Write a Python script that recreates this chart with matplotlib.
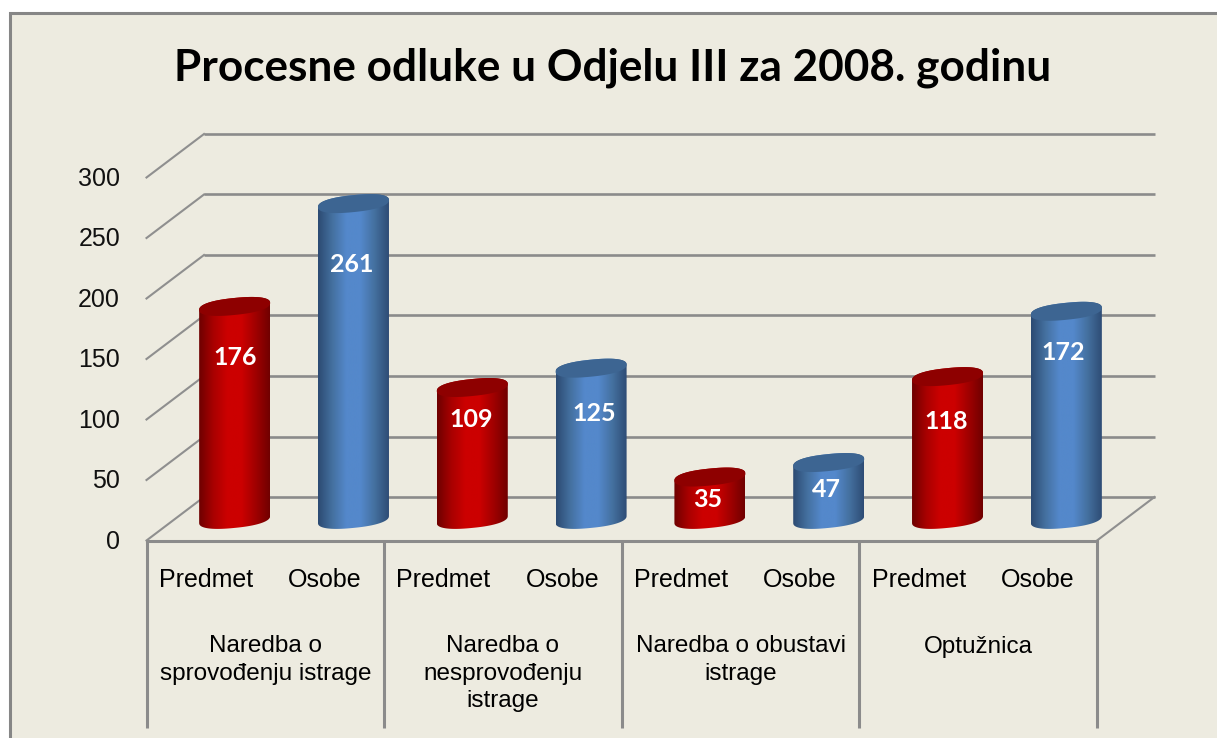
import numpy as np
import matplotlib
matplotlib.use("Agg")
import matplotlib.pyplot as plt
from matplotlib.patches import PathPatch, Rectangle
from matplotlib.path import Path
from matplotlib.colors import LinearSegmentedColormap
from matplotlib.transforms import ScaledTranslation

title = "Procesne odluke u Odjelu III za 2008. godinu"
groups = ["Naredba o\nsprovođenju istrage", "Naredba o\nnesprovođenju\nistrage",
          "Naredba o obustavi\nistrage", "Optužnica"]
series_names = ["Predmet", "Osobe"]
predmet = [176, 109, 35, 118]
osobe = [261, 125, 47, 172]
y_ticks = [0, 50, 100, 150, 200, 250, 300]

# layout (pixels of the 1217x738 canvas)
W, H = 1217, 738
X0, X1, Y0, Y300 = 146.5, 1097.0, 540.5, 177.5
BG, GRID = "#EDEBE0", "#8B8B8B"

fig = plt.figure(figsize=(W / 100, H / 100), dpi=100, facecolor="white")
fig.add_artist(Rectangle((9.5 / W, -0.1), 1.2, 1 + 0.1 - 13.5 / H, transform=fig.transFigure,
                         facecolor=BG, edgecolor="#868686", linewidth=2.2, zorder=-5))
ax = fig.add_axes([X0 / W, 1 - Y0 / H, (X1 - X0) / W, (Y0 - Y300) / H])
ax.patch.set_visible(False)
ax.set_xlim(0, 4)
ax.set_ylim(0, 300)
PX, PY = 4 / (X1 - X0), 300 / (Y0 - Y300)   # data units per pixel
DX, DY = 57.5 * PX, 43.5 * PY               # depth of the chart box

for s in ("left", "right", "top"):
    ax.spines[s].set_visible(False)
ax.spines["bottom"].set_color(GRID)
ax.spines["bottom"].set_linewidth(2.2)

ax.set_yticks(y_ticks)
ax.set_yticklabels([str(v) for v in y_ticks], fontfamily="Liberation Sans", fontsize=18, color="#111111")
ax.tick_params(axis="y", length=0, pad=19)
for lab in ax.get_yticklabels():
    lab.set_transform(lab.get_transform() + ScaledTranslation(0, 0.014, fig.dpi_scale_trans))
xt = [i + f for i in range(4) for f in (0.25, 0.75)]
ax.set_xticks(xt)
ax.set_xticklabels(series_names * 4, fontfamily="Liberation Sans", fontsize=18, color="black")
ax.tick_params(axis="x", length=0, pad=19.7)

# walls
for v in y_ticks:
    ax.plot([0, DX], [v, v + DY], color="#8F8F8F", lw=1.5, clip_on=False, zorder=1)
    ax.plot([DX, 4 + DX], [v + DY, v + DY], color=GRID, lw=1.9, clip_on=False, zorder=1,
            solid_capstyle="butt")
ax.plot([4, 4 + DX], [0, DY], color="#8F8F8F", lw=1.5, clip_on=False, zorder=1)

# category dividers
for i in range(5):
    ax.plot([i, i], [0, -187.5 * PY], color=GRID, lw=2.2, clip_on=False, zorder=1,
            solid_capstyle="butt")
for i, g in enumerate(groups):
    ax.text(i + 0.5, -95 * PY, g, ha="center", va="top", fontfamily="Liberation Sans",
            fontsize=17.5, linespacing=1.32, color="black")

red = LinearSegmentedColormap.from_list("r", ["#6E0000", "#A80000", "#CC0000", "#CC0000", "#A00000", "#700000"])
blue = LinearSegmentedColormap.from_list("b", ["#2C4A72", "#44709F", "#5488CB", "#5488CB", "#44709F", "#2E4C75"])
grad = np.linspace(0, 1, 256)[None, :]


def round_cos(t, p=0.85):
    return np.sign(np.cos(t)) * np.abs(np.cos(t)) ** p


def round_sin(t, p=0.85):
    return np.sign(np.sin(t)) * np.abs(np.sin(t)) ** p


def cylinder(xc, value, cmap, top_col):
    """A tilted rounded cylinder standing at mid depth of the chart box."""
    a, b, s = 35.5 * PX, 8.5 * PY, 3.5 * PY
    yb = DY * 0.485
    yt = yb + value
    t1 = np.linspace(np.pi, 2 * np.pi, 60)
    t2 = np.linspace(0, np.pi, 60)
    xs = np.r_[xc + a * round_cos(t1), xc + a * round_cos(t2)]
    ys = np.r_[yb + b * round_sin(t1) + s * round_cos(t1), yt + b * round_sin(t2) + s * round_cos(t2)]
    body = PathPatch(Path(np.c_[xs, ys]), facecolor="none", edgecolor="none", clip_on=False, zorder=3)
    ax.add_patch(body)
    im = ax.imshow(grad, cmap=cmap, extent=(xc - a, xc + a, yb - 2 * b, yt + 2 * b), aspect="auto", zorder=3)
    im.set_clip_path(body)
    im.set_clip_box(fig.bbox)
    t = np.linspace(0, 2 * np.pi, 120)
    ax.fill(xc + a * round_cos(t), yt + b * round_sin(t) + s * round_cos(t), color=top_col, lw=0,
            clip_on=False, zorder=4)


for i in range(4):
    cylinder(i + 0.25 + DX / 2, predmet[i], red, "#8E0000")
    cylinder(i + 0.75 + DX / 2, osobe[i], blue, "#3D6592")
ax.set_xlim(0, 4)
ax.set_ylim(0, 300)

# data labels: height in value units and small sideways nudge in pixels
predmet_label_y = [151, 100, 34, 98]
osobe_label_y = [228, 105, 42, 155.5]
predmet_label_dx = [0.5, -1, -2, -1]
osobe_label_dx = [-1.5, 3, -2, -3]
for i in range(4):
    ax.text(i + 0.25 + DX / 2 + predmet_label_dx[i] * PX, predmet_label_y[i], str(predmet[i]), ha="center",
            va="center", color="white", fontfamily="Lato", fontweight="bold", fontsize=18, zorder=5)
    ax.text(i + 0.75 + DX / 2 + osobe_label_dx[i] * PX, osobe_label_y[i], str(osobe[i]), ha="center",
            va="center", color="white", fontfamily="Lato", fontweight="bold", fontsize=18, zorder=5)

fig.text(613 / W, 1 - 68 / H, title, ha="center", va="center", fontfamily="Lato", fontweight="bold",
         fontsize=31.8, color="black")
fig.savefig("out.png", dpi=100, facecolor="white")
